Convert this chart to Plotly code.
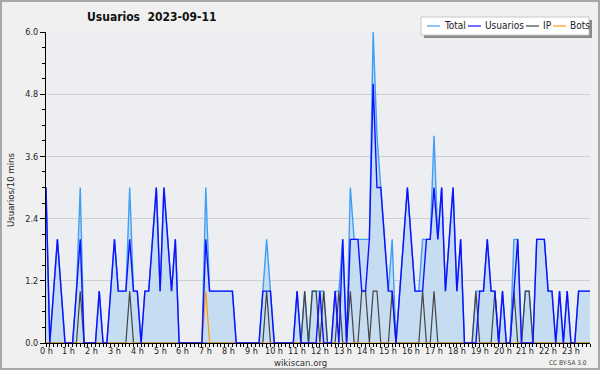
import plotly.graph_objects as go

# 10-minute slots (0..143) for 2023-09-11
usuarios = [3,0,1,2,1,0,0,0,1,2, 0,0,0,0,1,0,0,1,2,1,
            1,1,2,1,1,0,1,1,2,3, 1,3,2,1,2,0,0,0,0,0,
            0,0,2,1,1,1,1,1,1,1, 0,0,0,0,0,0,0,1,1,1,
            0,0,0,0,0,0,1,0,0,0, 0,0,1,0,0,0,1,0,2,0,
            2,2,2,1,1,2,5,3,3,2, 1,1,0,1,2,3,2,1,1,1,
            2,2,3,2,3,1,2,3,1,2, 0,0,0,0,1,1,2,1,1,0,
            1,0,0,1,2,0,0,0,0,2, 2,2,1,1,0,1,0,1,0,0,
            1,1,1,1]
ip = [0,0,0,0,0,0,0,0,0,1, 0,0,0,0,0,0,0,0,0,0,
      0,0,1,0,0,0,0,0,0,0, 0,0,0,0,0,0,0,0,0,0,
      0,0,0,0,0,0,0,0,0,0, 0,0,0,0,0,0,0,0,1,0,
      0,0,0,0,0,0,0,0,1,0, 1,1,0,1,0,0,0,1,0,0,
      1,0,0,1,1,0,1,1,0,0, 0,1,0,0,0,0,0,0,0,1,
      0,0,1,0,0,0,0,0,0,0, 0,0,0,1,0,0,0,0,1,0,
      0,0,0,1,0,0,1,1,0,0, 0,0,0,0,0,0,0,0,0,0,
      0,0,0,0]
bots = [0]*42 + [1] + [0]*101
total = [3,0,1,2,1,0,0,0,1,3, 0,0,0,0,1,0,0,1,2,1,
         1,1,3,1,1,0,1,1,2,3, 1,3,2,1,2,0,0,0,0,0,
         0,0,3,1,1,1,1,1,1,1, 0,0,0,0,0,0,0,1,2,1,
         0,0,0,0,0,0,1,0,1,0, 1,1,1,1,0,0,1,1,2,0,
         3,2,2,2,2,2,6,4,3,2, 1,2,0,1,2,3,2,1,1,2,
         2,2,4,2,3,1,2,3,1,2, 0,0,0,1,1,1,2,1,1,0,
         1,0,0,2,2,0,1,1,0,2, 2,2,1,1,0,1,0,1,0,0,
         1,1,1,1]
hours = [k / 6 for k in range(144)]
hour_ticks = list(range(24))
hour_labels = [f"{h} h" for h in hour_ticks]
y_ticks = [0, 1.2, 2.4, 3.6, 4.8, 6.0]

W, H = 600, 370
L, R, T, B = 46, 10, 32, 27
PW, PH = W - L - R, H - T - B
def px(x): return (x - L) / PW
def py(y): return (H - B - y) / PH

FONT = "DejaVu Sans Condensed, Liberation Sans Narrow, DejaVu Sans, sans-serif"
fig = go.Figure()
fig.add_trace(go.Scatter(x=hours, y=total, mode="lines", name="Total",
                         line=dict(color="#3f9ff6", width=1.4),
                         fill="tozeroy", fillcolor="#c6ddf1", showlegend=False))
fig.add_trace(go.Scatter(x=hours, y=ip, mode="lines", name="IP",
                         line=dict(color="#444444", width=1.2), showlegend=False))
fig.add_trace(go.Scatter(x=hours, y=bots, mode="lines", name="Bots",
                         line=dict(color="#ff9a10", width=1.2), showlegend=False))
fig.add_trace(go.Scatter(x=hours, y=usuarios, mode="lines", name="Usuarios",
                         line=dict(color="#1010ff", width=1.4), showlegend=False))

shapes = []
annots = []
# outer border
shapes.append(dict(type="rect", xref="paper", yref="paper", x0=px(1), x1=px(599), y0=py(1), y1=py(369),
                   line=dict(color="#a8a8a8", width=2), layer="below"))
# legend box with shadow
shapes.append(dict(type="rect", xref="paper", yref="paper", x0=px(424), x1=px(592), y0=py(20), y1=py(38),
                   line=dict(width=0), fillcolor="#8a8a8a", layer="above"))
shapes.append(dict(type="rect", xref="paper", yref="paper", x0=px(421), x1=px(589), y0=py(17), y1=py(35),
                   line=dict(color="#c8c8c8", width=1), fillcolor="#ffffff", layer="above"))
leg = [("Total", "#3f9ff6", 427), ("Usuarios", "#1010ff", 468), ("IP", "#444444", 526), ("Bots", "#ff9a10", 553)]
for name, col, x0 in leg:
    shapes.append(dict(type="line", xref="paper", yref="paper", x0=px(x0), x1=px(x0 + 13), y0=py(26), y1=py(26),
                       line=dict(color=col, width=1.2), layer="above"))
    annots.append(dict(x=px(x0 + 15), y=py(26), xref="paper", yref="paper", text=name, showarrow=False,
                       xanchor="left", yanchor="middle", font=dict(family=FONT, size=10, color="#222")))
# hour tick labels, placed on the x axis scale
for hv, lab in zip(hour_ticks, hour_labels):
    annots.append(dict(x=hv, y=py(350.5), xref="x", yref="paper", text=lab, showarrow=False,
                       xanchor="center", yanchor="middle", font=dict(family=FONT, size=9, color="#222")))
annots.append(dict(x=px(85), y=py(17), xref="paper", yref="paper", text="<b>Usuarios  2023-09-11</b>",
                   showarrow=False, xanchor="left", yanchor="middle", font=dict(family=FONT, size=12, color="#111")))
annots.append(dict(x=px(10), y=py(190), xref="paper", yref="paper", text="Usuarios/10 mins", textangle=-90,
                   showarrow=False, xanchor="center", yanchor="middle", font=dict(family=FONT, size=9.5, color="#222")))
annots.append(dict(x=px(300), y=py(362.5), xref="paper", yref="paper", text="wikiscan.org",
                   showarrow=False, xanchor="center", yanchor="middle", font=dict(family=FONT, size=9.5, color="#333")))
annots.append(dict(x=px(589), y=py(363), xref="paper", yref="paper", text="CC BY-SA 3.0",
                   showarrow=False, xanchor="right", yanchor="middle", font=dict(family=FONT, size=6.5, color="#444")))

fig.update_layout(
    width=W, height=H, margin=dict(l=L, r=R, t=T, b=B),
    paper_bgcolor="#f0f0f0", plot_bgcolor="#eceef1",
    shapes=shapes, annotations=annots, showlegend=False,
    font=dict(family=FONT, size=9, color="#222"),
)
fig.update_xaxes(range=[0, 143 / 6], tickmode="array", tickvals=hour_ticks, showticklabels=False,
                 ticks="outside", ticklen=3, tickcolor="black", tickwidth=1,
                 showline=True, linecolor="black", linewidth=1, showgrid=False, zeroline=False,
                 minor=dict(tickmode="linear", tick0=0, dtick=1 / 6, ticks="outside", ticklen=3, tickcolor="black"))
fig.update_yaxes(range=[0, 6], tickmode="array", tickvals=y_ticks, ticktext=[f"{v:.1f}" for v in y_ticks],
                 ticks="outside", ticklen=5, tickcolor="black", tickwidth=1,
                 showline=True, linecolor="black", linewidth=1, showgrid=True, gridcolor="#cfcfcf", gridwidth=1,
                 zeroline=False,
                 minor=dict(tickmode="linear", tick0=0, dtick=0.3, ticks="outside", ticklen=3, tickcolor="black",
                            showgrid=False),
                 tickfont=dict(family=FONT, size=9, color="#222"))

fig.write_html("out.html", config={"displayModeBar": False, "staticPlot": True},
               post_script="document.body.style.margin='0';document.body.style.overflow='hidden';")
